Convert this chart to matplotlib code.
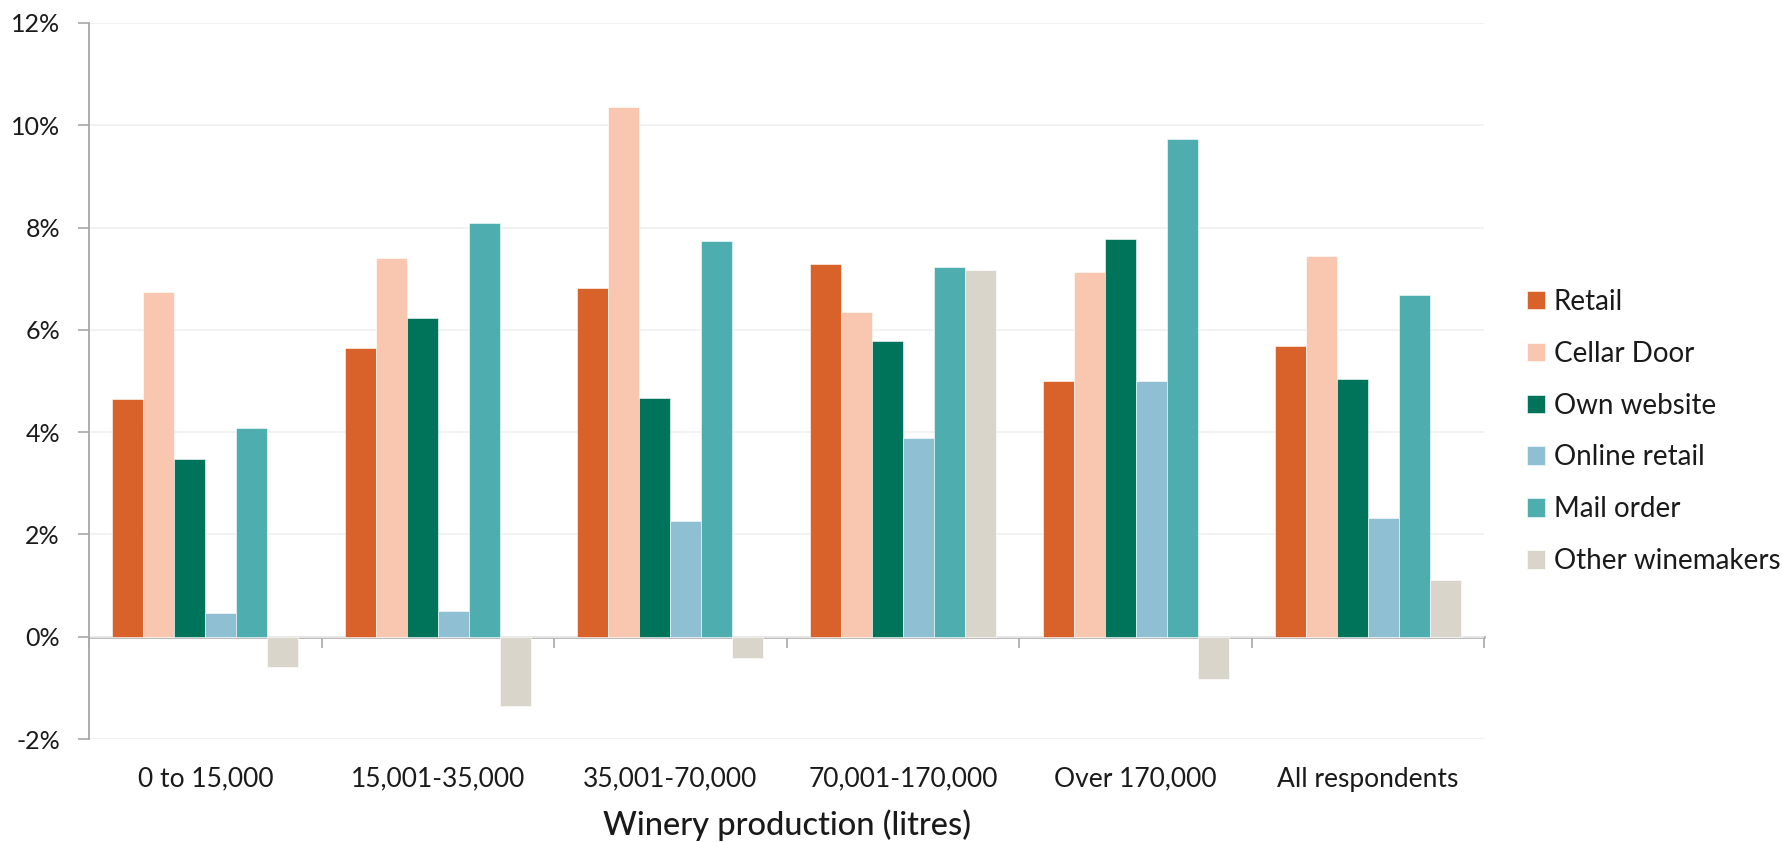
import matplotlib
matplotlib.use("Agg")
import matplotlib.pyplot as plt
import numpy as np

plt.rcParams['font.family'] = ['Lato', 'DejaVu Sans']

categories = ["0 to 15,000", "15,001-35,000", "35,001-70,000",
              "70,001-170,000", "Over 170,000", "All respondents"]

retail = [4.65, 5.65, 6.82, 7.29, 5.00, 5.69]
cellar_door = [6.75, 7.41, 10.35, 6.35, 7.13, 7.45]
own_website = [3.48, 6.23, 4.66, 5.79, 7.77, 5.03]
online_retail = [0.46, 0.50, 2.27, 3.89, 5.00, 2.33]
mail_order = [4.09, 8.08, 7.74, 7.23, 9.74, 6.69]
other_winemakers = [-0.59, -1.36, -0.42, 7.18, -0.83, 1.10]

series_names = ["Retail", "Cellar Door", "Own website", "Online retail",
                "Mail order", "Other winemakers"]
series_values = [retail, cellar_door, own_website, online_retail,
                 mail_order, other_winemakers]
colors = ["#D9622B", "#F9C6AF", "#00745A", "#8EBFD3", "#4DADAF", "#D9D5CB"]

y_ticks = [-2, 0, 2, 4, 6, 8, 10, 12]
x_label = "Winery production (litres)"

fig = plt.figure(figsize=(17.82, 8.42), dpi=100)
ax = fig.add_axes([0.050, 0.1223, 0.783, 0.8504])

n = len(series_names)
group_width = 0.8
bar_w = group_width / n
x = np.arange(len(categories))
for i, (name, vals, col) in enumerate(zip(series_names, series_values, colors)):
    offs = -group_width / 2 + bar_w * (i + 0.5)
    ax.bar(x + offs, vals, width=bar_w, color=col, label=name,
           edgecolor="white", linewidth=0.4, zorder=2)

ymin, ymax = -2, 12
ax.set_ylim(ymin, ymax)
ax.set_xlim(-0.5, len(categories) - 0.5)

ax.set_yticks(y_ticks)
ax.set_yticklabels([f"{v}%" for v in y_ticks])
ax.grid(axis="y", color="#F0F0F0", linewidth=1.2, zorder=0)
ax.set_axisbelow(True)

for s in ["top", "right", "bottom"]:
    ax.spines[s].set_visible(False)
ax.spines["left"].set_color("#A8A8A8")
ax.spines["left"].set_linewidth(1.3)

ax.tick_params(axis="y", direction="out", length=8, width=1.2, color="#A8A8A8",
               labelsize=18, pad=13, labelcolor="#1a1a1a")
ax.set_xticks(x)
ax.set_xticklabels(categories)
ax.tick_params(axis="x", length=0, labelsize=19, pad=20, labelcolor="#1a1a1a")

# zero baseline with separators between groups
zero_pos = (0 - ymin) / (ymax - ymin)
sec = ax.secondary_xaxis(zero_pos)
sec.set_xticks(np.arange(len(categories) + 1) - 0.5)
sec.tick_params(axis="x", direction="out", length=8, width=1.2, color="#A8A8A8",
                labelbottom=False, labeltop=False)
sec.spines["bottom"].set_color("#A8A8A8")
sec.spines["bottom"].set_linewidth(1.8)
for s in ["top", "left", "right"]:
    sec.spines[s].set_visible(False)

ax.set_xlabel(x_label, fontsize=23.5, fontweight="medium", labelpad=13,
              color="#1a1a1a")

fig.legend(loc="center left", bbox_to_anchor=(0.857, 0.4875), frameon=False,
           fontsize=20, handlelength=0.65, handleheight=0.65, handletextpad=0.3,
           labelspacing=0.93, borderpad=0, borderaxespad=0, labelcolor="#1a1a1a")

fig.savefig("out.png", dpi=100)
